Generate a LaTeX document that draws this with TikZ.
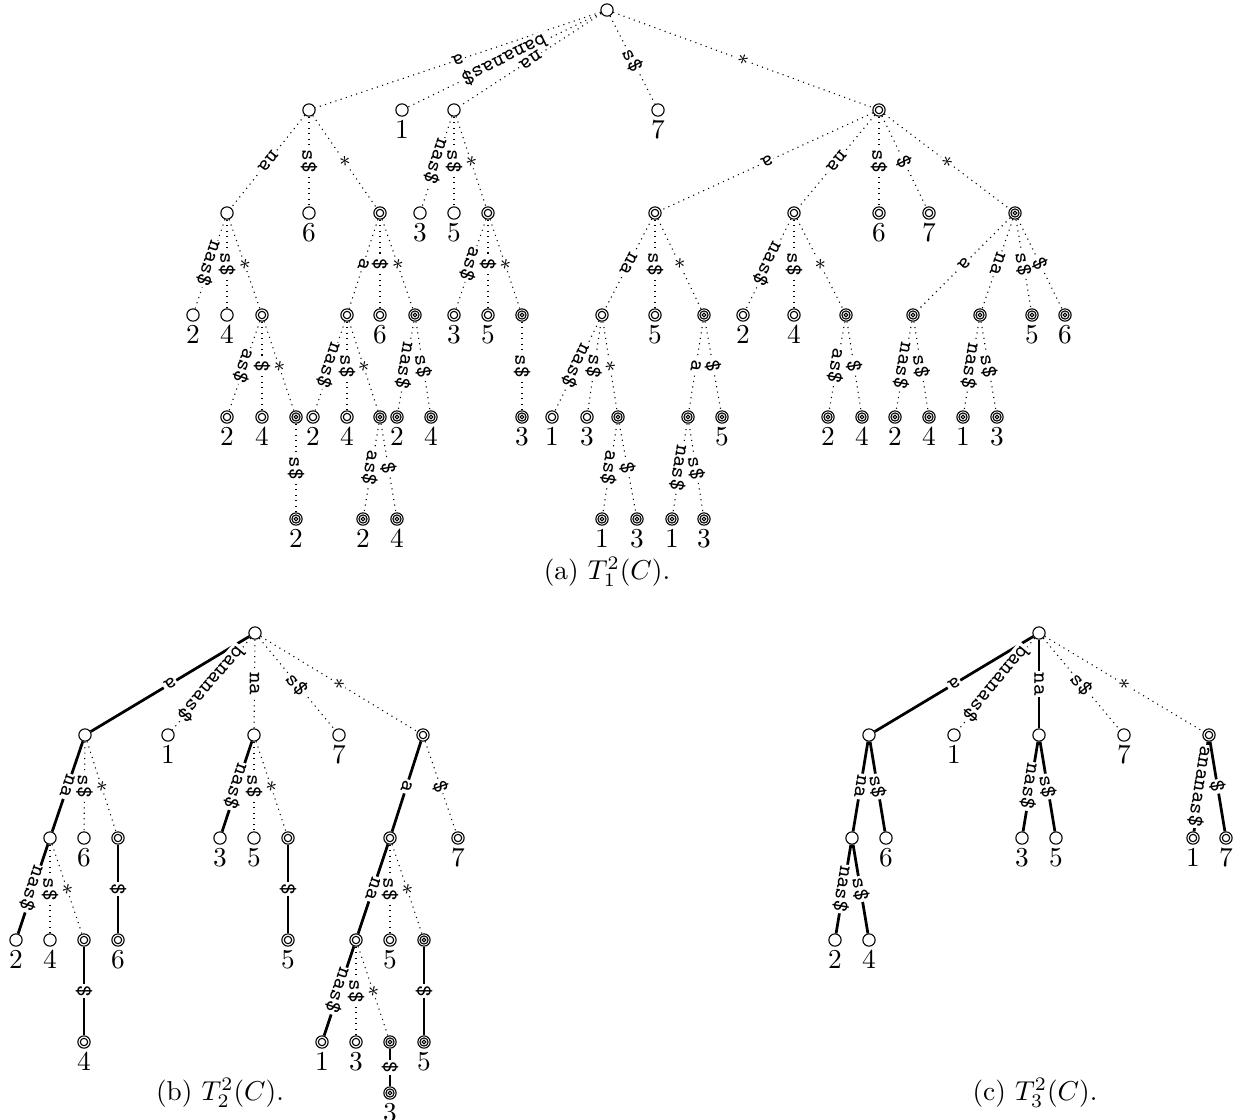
\documentclass[tikz,border=0pt]{standalone}
\usepackage{amsmath}
\newcommand\dE[3]{\draw[dtd] (#1) -- node[el]{#3} (#2);}
\newcommand\tE[3]{\draw[thk] (#1) -- node[el]{#3} (#2);}
\begin{document}
\begin{tikzpicture}[x=0.366pt,y=-0.366pt,
 n1/.style={circle, draw, fill=white, minimum size=4.5pt, inner sep=0pt, line width=0.4pt},
 n2/.style={n1, path picture={\draw[line width=0.4pt] (path picture bounding box.center) circle (1.35pt);}},
 n3/.style={n1, path picture={\draw[line width=0.4pt] (path picture bounding box.center) circle (1.5pt) (path picture bounding box.center) circle (0.7pt);}},
 num/.style={label={[inner sep=0pt, yshift=-1.1pt]below:#1}},
 el/.style={midway, sloped, allow upside down, fill=white, inner sep=0.5pt, font=\footnotesize\ttfamily},
 dtd/.style={line width=0.4pt, dash pattern=on 0.4pt off 1.6pt},
 thk/.style={line width=1pt},
 captxt/.style={inner sep=0pt}]
\fill[white] (0,0) rectangle (1243,1120);
\useasboundingbox (0,0) rectangle (1243,1120);

% ================= (a) =================
\node[n1] (r) at (607,10) {};
\node[n1] (A) at (309,110) {};
\node[n1,num=1] (L1) at (402,110) {};
\node[n1] (B) at (454,110) {};
\node[n1,num=7] (L7) at (658,110) {};
\node[n2] (C) at (879,110) {};
\dE{r}{A}{a}
\dE{r}{L1}{bananas\$}
\dE{r}{B}{na}
\dE{r}{L7}{s\$}
\dE{r}{C}{$*$}
% level 2
\node[n1] (A1) at (227,213) {};
\node[n1,num=6] (A2) at (309,213) {};
\node[n2] (A3) at (380,213) {};
\dE{A}{A1}{na}\dE{A}{A2}{s\$}\dE{A}{A3}{$*$}
\node[n1,num=3] (B1) at (420,213) {};
\node[n1,num=5] (B2) at (454,213) {};
\node[n2] (B3) at (488,213) {};
\dE{B}{B1}{nas\$}\dE{B}{B2}{s\$}\dE{B}{B3}{$*$}
\node[n2] (C1) at (655,213) {};
\node[n2] (C2) at (794,213) {};
\node[n2,num=6] (C3) at (879,213) {};
\node[n2,num=7] (C4) at (929,213) {};
\node[n3] (C5) at (1015,213) {};
\dE{C}{C1}{a}\dE{C}{C2}{na}\dE{C}{C3}{s\$}\dE{C}{C4}{\$}\dE{C}{C5}{$*$}
% level 3
\node[n1,num=2] (A11) at (193,315) {};
\node[n1,num=4] (A12) at (227,315) {};
\node[n2] (A13) at (262,315) {};
\dE{A1}{A11}{nas\$}\dE{A1}{A12}{s\$}\dE{A1}{A13}{$*$}
\node[n2] (A31) at (347,315) {};
\node[n2,num=6] (A32) at (380,315) {};
\node[n3] (A33) at (415,315) {};
\dE{A3}{A31}{a}\dE{A3}{A32}{\$}\dE{A3}{A33}{$*$}
\node[n2,num=3] (B31) at (454,315) {};
\node[n2,num=5] (B32) at (488,315) {};
\node[n3] (B33) at (522,315) {};
\dE{B3}{B31}{as\$}\dE{B3}{B32}{\$}\dE{B3}{B33}{$*$}
\node[n2] (C11) at (602,315) {};
\node[n2,num=5] (C12) at (655,315) {};
\node[n3] (C13) at (704,315) {};
\dE{C1}{C11}{na}\dE{C1}{C12}{s\$}\dE{C1}{C13}{$*$}
\node[n2,num=2] (C21) at (743,315) {};
\node[n2,num=4] (C22) at (794,315) {};
\node[n3] (C23) at (846,315) {};
\dE{C2}{C21}{nas\$}\dE{C2}{C22}{s\$}\dE{C2}{C23}{$*$}
\node[n3] (C51) at (913,315) {};
\node[n3] (C52) at (980,315) {};
\node[n3,num=5] (C53) at (1032,315) {};
\node[n3,num=6] (C54) at (1065,315) {};
\dE{C5}{C51}{a}\dE{C5}{C52}{na}\dE{C5}{C53}{s\$}\dE{C5}{C54}{\$}
% level 4
\node[n2,num=2] (A131) at (227,417) {};
\node[n2,num=4] (A132) at (262,417) {};
\node[n3] (A133) at (296,417) {};
\dE{A13}{A131}{as\$}\dE{A13}{A132}{\$}\dE{A13}{A133}{$*$}
\node[n2,num=2] (A311) at (313,417) {};
\node[n2,num=4] (A312) at (347,417) {};
\node[n3] (A313) at (380,417) {};
\dE{A31}{A311}{nas\$}\dE{A31}{A312}{s\$}\dE{A31}{A313}{$*$}
\node[n3,num=2] (A331) at (397,417) {};
\node[n3,num=4] (A332) at (431,417) {};
\dE{A33}{A331}{nas\$}\dE{A33}{A332}{s\$}
\node[n3,num=3] (B331) at (522,417) {};
\dE{B33}{B331}{s\$}
\node[n2,num=1] (C111) at (552,417) {};
\node[n2,num=3] (C112) at (587,417) {};
\node[n3] (C113) at (618,417) {};
\dE{C11}{C111}{nas\$}\dE{C11}{C112}{s\$}\dE{C11}{C113}{$*$}
\node[n3] (C131) at (688,417) {};
\node[n3,num=5] (C132) at (722,417) {};
\dE{C13}{C131}{a}\dE{C13}{C132}{\$}
\node[n3,num=2] (C231) at (828,417) {};
\node[n3,num=4] (C232) at (862,417) {};
\dE{C23}{C231}{as\$}\dE{C23}{C232}{\$}
\node[n3,num=2] (C511) at (895,417) {};
\node[n3,num=4] (C512) at (929,417) {};
\dE{C51}{C511}{nas\$}\dE{C51}{C512}{s\$}
\node[n3,num=1] (C521) at (963,417) {};
\node[n3,num=3] (C522) at (997,417) {};
\dE{C52}{C521}{nas\$}\dE{C52}{C522}{s\$}
% level 5
\node[n3,num=2] (A1331) at (296,519) {};
\dE{A133}{A1331}{s\$}
\node[n3,num=2] (A3131) at (363,519) {};
\node[n3,num=4] (A3132) at (397,519) {};
\dE{A313}{A3131}{as\$}\dE{A313}{A3132}{\$}
\node[n3,num=1] (C1131) at (602,519) {};
\node[n3,num=3] (C1132) at (637,519) {};
\dE{C113}{C1131}{as\$}\dE{C113}{C1132}{\$}
\node[n3,num=1] (C1311) at (672,519) {};
\node[n3,num=3] (C1312) at (704,519) {};
\dE{C131}{C1311}{nas\$}\dE{C131}{C1312}{s\$}
\node[captxt] (capa) at (607,572) {(a) $T_1^2(C)$.};

% ================= (b) =================
\node[n1] (R) at (255,633) {};
\node[n1] (Ba) at (85,735) {};
\node[n1,num=1] (bL1) at (168,735) {};
\node[n1] (Bn) at (254,735) {};
\node[n1,num=7] (bL7) at (339,735) {};
\node[n2] (Bs) at (423,735) {};
\tE{R}{Ba}{a}
\dE{R}{bL1}{bananas\$}
\dE{R}{Bn}{na}
\dE{R}{bL7}{s\$}
\dE{R}{Bs}{$*$}
\node[n1] (Ba1) at (50,838) {};
\node[n1,num=6] (Ba2) at (84,838) {};
\node[n2] (Ba3) at (118,838) {};
\tE{Ba}{Ba1}{na}\dE{Ba}{Ba2}{s\$}\dE{Ba}{Ba3}{$*$}
\node[n1,num=3] (Bn1) at (220,838) {};
\node[n1,num=5] (Bn2) at (254,838) {};
\node[n2] (Bn3) at (288,838) {};
\tE{Bn}{Bn1}{nas\$}\dE{Bn}{Bn2}{s\$}\dE{Bn}{Bn3}{$*$}
\node[n2] (Bs1) at (390,838) {};
\node[n2,num=7] (Bs2) at (458,838) {};
\tE{Bs}{Bs1}{a}\dE{Bs}{Bs2}{\$}
\node[n1,num=2] (Ba11) at (16,940) {};
\node[n1,num=4] (Ba12) at (50,940) {};
\node[n2] (Ba13) at (84,940) {};
\tE{Ba1}{Ba11}{nas\$}\dE{Ba1}{Ba12}{s\$}\dE{Ba1}{Ba13}{$*$}
\node[n2,num=6] (Ba31) at (118,940) {};
\tE{Ba3}{Ba31}{\$}
\node[n2,num=5] (Bn31) at (288,940) {};
\tE{Bn3}{Bn31}{\$}
\node[n2] (Bs11) at (356,940) {};
\node[n2,num=5] (Bs12) at (390,940) {};
\node[n3] (Bs13) at (424,940) {};
\tE{Bs1}{Bs11}{na}\dE{Bs1}{Bs12}{s\$}\dE{Bs1}{Bs13}{$*$}
\node[n2,num=4] (Ba131) at (84,1042) {};
\tE{Ba13}{Ba131}{\$}
\node[n2,num=1] (Bs111) at (322,1042) {};
\node[n2,num=3] (Bs112) at (356,1042) {};
\node[n3] (Bs113) at (390,1042) {};
\tE{Bs11}{Bs111}{nas\$}\dE{Bs11}{Bs112}{s\$}\dE{Bs11}{Bs113}{$*$}
\node[n3,num=5] (Bs131) at (424,1042) {};
\tE{Bs13}{Bs131}{\$}
\node[n3,num=3] (Bs1131) at (390,1093) {};
\tE{Bs113}{Bs1131}{\$}
\node[captxt] (capb) at (220,1093) {(b) $T_2^2(C)$.};

% ================= (c) =================
\node[n1] (Q) at (1039,633) {};
\node[n1] (Ca) at (869,735) {};
\node[n1,num=1] (cL1) at (954,735) {};
\node[n1] (Cn) at (1039,735) {};
\node[n1,num=7] (cL7) at (1124,735) {};
\node[n2] (Cs) at (1209,735) {};
\tE{Q}{Ca}{a}
\dE{Q}{cL1}{bananas\$}
\tE{Q}{Cn}{na}
\dE{Q}{cL7}{s\$}
\dE{Q}{Cs}{$*$}
\node[n1] (Ca1) at (852,838) {};
\node[n1,num=6] (Ca2) at (886,838) {};
\tE{Ca}{Ca1}{na}\tE{Ca}{Ca2}{s\$}
\node[n1,num=3] (Cn1) at (1022,838) {};
\node[n1,num=5] (Cn2) at (1056,838) {};
\tE{Cn}{Cn1}{nas\$}\tE{Cn}{Cn2}{s\$}
\node[n2,num=1] (Cs1) at (1193,838) {};
\node[n2,num=7] (Cs2) at (1226,838) {};
\tE{Cs}{Cs1}{ananas\$}\tE{Cs}{Cs2}{\$}
\node[n1,num=2] (Ca11) at (835,940) {};
\node[n1,num=4] (Ca12) at (869,940) {};
\tE{Ca1}{Ca11}{nas\$}\tE{Ca1}{Ca12}{s\$}
\node[captxt] (capc) at (1035,1093) {(c) $T_3^2(C)$.};
\end{tikzpicture}
\end{document}
